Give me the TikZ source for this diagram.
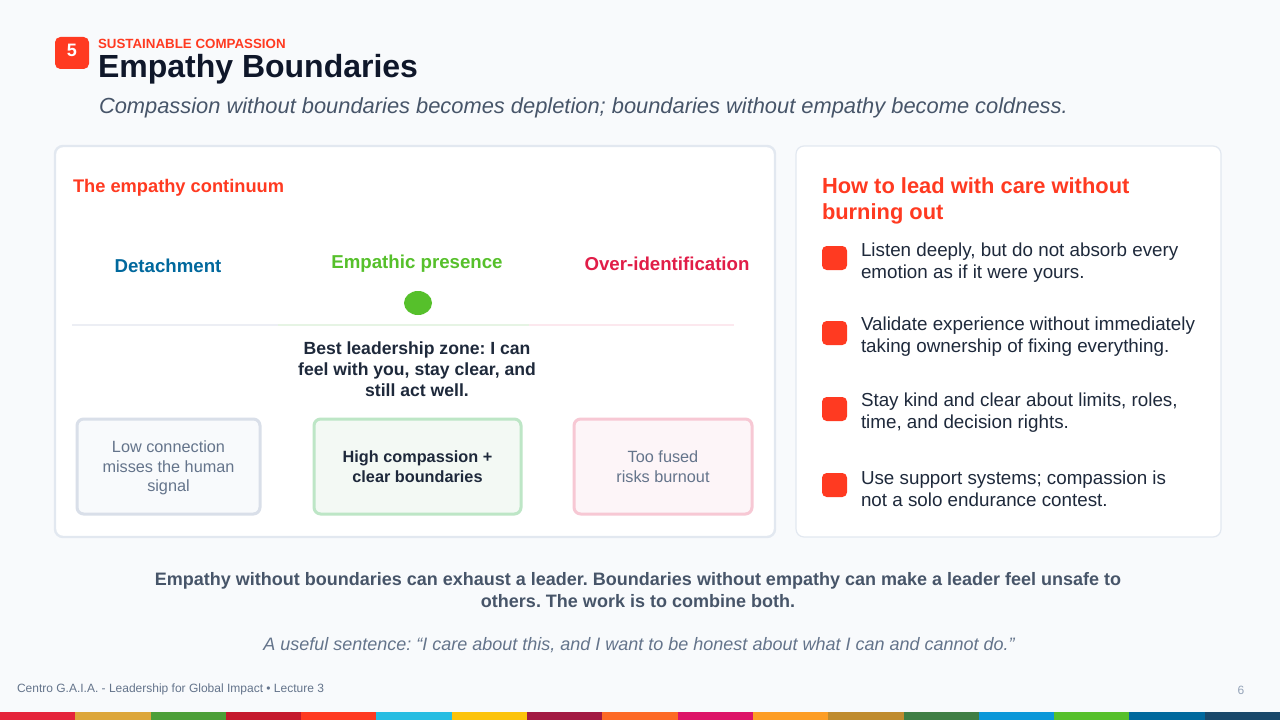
\documentclass[tikz,border=0pt]{standalone}
\usepackage{fontspec}
\setmainfont{Liberation Sans}
\frenchspacing
\definecolor{bg}{HTML}{F8FAFC}
\definecolor{accent}{HTML}{FF3A21}
\definecolor{ink}{HTML}{0F172A}
\definecolor{dark}{HTML}{1E293B}
\definecolor{slate}{HTML}{475569}
\definecolor{muted}{HTML}{64748B}
\definecolor{faint}{HTML}{94A3B8}
\definecolor{panelborder}{HTML}{E2E8F0}
\definecolor{detblue}{HTML}{00689D}
\definecolor{presgreen}{HTML}{56C02B}
\definecolor{overred}{HTML}{E11D48}
\definecolor{lineA}{HTML}{ECEEF4}
\definecolor{lineB}{HTML}{E6F4E4}
\definecolor{lineC}{HTML}{FCE8EE}
\definecolor{boxAfill}{HTML}{F8FAFC}
\definecolor{boxAdraw}{HTML}{D9DFE9}
\definecolor{boxBfill}{HTML}{F3F9F4}
\definecolor{boxBdraw}{HTML}{BDE6C6}
\definecolor{boxCfill}{HTML}{FDF5F8}
\definecolor{boxCdraw}{HTML}{F7C8D4}
\definecolor{sdgA}{HTML}{E5243B}
\definecolor{sdgB}{HTML}{DDA63A}
\definecolor{sdgC}{HTML}{4C9F38}
\definecolor{sdgD}{HTML}{C5192D}
\definecolor{sdgE}{HTML}{FF3A21}
\definecolor{sdgF}{HTML}{26BDE2}
\definecolor{sdgG}{HTML}{FCC30B}
\definecolor{sdgH}{HTML}{A21942}
\definecolor{sdgI}{HTML}{FD6925}
\definecolor{sdgJ}{HTML}{DD1367}
\definecolor{sdgK}{HTML}{FD9D24}
\definecolor{sdgL}{HTML}{BF8B2E}
\definecolor{sdgM}{HTML}{3F7E44}
\definecolor{sdgN}{HTML}{0A97D9}
\definecolor{sdgO}{HTML}{56C02B}
\definecolor{sdgP}{HTML}{00689D}
\definecolor{sdgQ}{HTML}{19486A}
\newcommand{\fs}[2]{\fontsize{#1}{#2}\selectfont}
\tikzset{
  txt/.style={inner sep=0pt, outer sep=0pt},
  panel/.style={fill=white, rounded corners=6pt},
  zonebox/.style={rounded corners=5pt, line width=2.25pt},
  bulletsq/.style={fill=accent, rounded corners=3.5pt},
  bullettext/.style={txt, anchor=west, align=left, text=dark, font=\fs{14.1}{16.5}},
  boxtext/.style={txt, align=center, font=\fs{12.2}{14.8}},
  poslabel/.style={txt, font=\fs{14}{16}\bfseries},
}
\begin{document}
\begin{tikzpicture}[x=0.75pt,y=-0.75pt]
\useasboundingbox (0,0) rectangle (1280,720);
\fill[bg] (0,0) rectangle (1280,720);

% header
\fill[accent, rounded corners=4pt] (55,37) rectangle (89,69);
\node[txt, text=white, font=\fs{13.5}{16}\bfseries] (badge) at (72,50) {5};
\node[txt, anchor=west, text=accent, font=\fs{10}{12}\bfseries] (kicker) at (98,43.5) {SUSTAINABLE COMPASSION};
\node[txt, anchor=west, text=ink, font=\fs{24}{28}\bfseries] (title) at (98,69) {Empathy Boundaries};
\node[txt, anchor=west, text=slate, font=\fs{16.4}{19}\itshape] (subtitle) at (99,107.5) {Compassion without boundaries becomes depletion; boundaries without empathy become coldness.};

% left panel
\draw[panel, draw=panelborder, line width=1.8pt] (55,146) rectangle (775,537);
\node[txt, anchor=west, text=accent, font=\fs{13.7}{16}\bfseries] (lefthead) at (73,187.5) {The empathy continuum};
\node[poslabel, text=detblue] (det) at (168,266) {Detachment};
\node[poslabel, text=presgreen] (pres) at (417,264) {Empathic presence};
\node[poslabel, text=overred] (over) at (667,264) {Over-identification};
\fill[presgreen] (418,303) ellipse [x radius=14, y radius=12];
\draw[lineA, line width=1.5pt] (72,325) -- (278,325);
\draw[lineB, line width=1.5pt] (278,325) -- (529,325);
\draw[lineC, line width=1.5pt] (529,325) -- (734,325);
\node[txt, align=center, text=dark, font=\fs{13.2}{15.75}\bfseries] (zone) at (417,369.5) {Best leadership zone: I can\\feel with you, stay clear, and\\still act well.};

\draw[zonebox, draw=boxAdraw, fill=boxAfill] (77,419) rectangle (260,514);
\node[boxtext, text=muted] (lowtxt) at (168.5,468) {Low connection\\misses the human\\signal};
\draw[zonebox, draw=boxBdraw, fill=boxBfill] (314,419) rectangle (521,514);
\node[boxtext, text=dark, font=\fs{12.2}{14.8}\bfseries] (hightxt) at (417.5,467) {High compassion +\\clear boundaries};
\draw[zonebox, draw=boxCdraw, fill=boxCfill] (574,419) rectangle (752,514);
\node[boxtext, text=muted] (fusedtxt) at (663,467) {Too fused\\risks burnout};

% right panel
\draw[panel, draw=panelborder, line width=0.9pt] (796,146) rectangle (1221,537);
\node[txt, anchor=west, align=left, text=accent, font=\fs{16.4}{19.5}\bfseries] (righthead) at (822,201) {How to lead with care without\\burning out};

\fill[bulletsq] (822,246) rectangle (847,270);
\node[bullettext] (b1) at (861,262.5) {Listen deeply, but do not absorb every\\emotion as if it were yours.};
\fill[bulletsq] (822,321) rectangle (847,345);
\node[bullettext] (b2) at (861,336.5) {Validate experience without immediately\\taking ownership of fixing everything.};
\fill[bulletsq] (822,397) rectangle (847,421);
\node[bullettext] (b3) at (861,412.5) {Stay kind and clear about limits, roles,\\time, and decision rights.};
\fill[bulletsq] (822,473) rectangle (847,497);
\node[bullettext] (b4) at (861,488.5) {Use support systems; compassion is\\not a solo endurance contest.};

% bottom text
\node[txt, align=center, text=slate, font=\fs{13.5}{16.5}\bfseries] (summary) at (638,590.5) {Empathy without boundaries can exhaust a leader. Boundaries without empathy can make a leader feel unsafe to\\others. The work is to combine both.};
\node[txt, text=muted, font=\fs{13.5}{16}\itshape] (quote) at (639,645.5) {A useful sentence: “I care about this, and I want to be honest about what I can and cannot do.”};

% footer
\node[txt, anchor=west, text=muted, font=\fs{9}{11}] (footer) at (17,689.5) {Centro G.A.I.A. - Leadership for Global Impact • Lecture 3};
\node[txt, text=faint, font=\fs{9}{11}] (pagenum) at (1241,690) {6};

% SDG strip
\foreach \c [count=\i from 0] in {sdgA,sdgB,sdgC,sdgD,sdgE,sdgF,sdgG,sdgH,sdgI,sdgJ,sdgK,sdgL,sdgM,sdgN,sdgO,sdgP,sdgQ}{
  \fill[\c] ({\i*75.294},712) rectangle ({\i*75.294+75.6},720);
}
\end{tikzpicture}
\end{document}
